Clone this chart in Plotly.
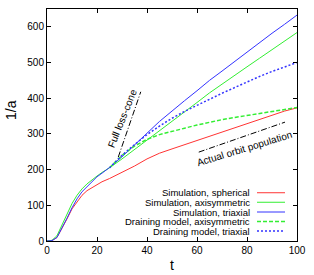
import plotly.graph_objects as go

# ---- data ----
t_sim = [0, 2, 4, 6, 8, 10, 12, 14, 16, 18, 20, 22, 25, 30, 35, 40, 45, 50, 55, 60, 65, 70, 75, 80, 85, 90, 95, 100]
sim_spherical = [0, 1, 10, 35, 62, 90, 110, 128, 141, 150, 157, 166, 175, 192, 210, 230, 246, 258, 270, 282, 293, 304, 316, 328, 340, 353, 364, 373]
sim_axisym = [0, 2, 15, 45, 78, 105, 128, 146, 160, 172, 182, 192, 205, 230, 256, 282, 308, 334, 361, 388, 415, 440, 464, 488, 512, 536, 560, 584]
sim_triaxial = [0, 1, 10, 35, 64, 93, 118, 138, 153, 167, 180, 190, 206, 236, 268, 302, 335, 365, 393, 421, 450, 476, 503, 530, 556, 582, 607, 633]

t_drain = [25, 30, 35, 40, 45, 50, 55, 60, 65, 70, 75, 80, 85, 90, 95, 100]
drain_axisym = [205, 240, 266, 285, 298, 308, 316, 325, 333, 340, 346, 352, 358, 364, 369, 374]
drain_triaxial = [205, 240, 270, 298, 322, 344, 363, 381, 397, 414, 430, 446, 461, 475, 488, 500]

fullcone_t = [28.5, 37.5]
fullcone_v = [235, 418]
actual_t = [60.7, 95.2]
actual_v = [249, 333]

x_ticks = [0, 20, 40, 60, 80, 100]
y_ticks = [0, 100, 200, 300, 400, 500, 600]

RED = "#ff3333"
GREEN = "#33ee33"
BLUE = "#3333ff"

series = [
    ("Simulation, spherical", t_sim, sim_spherical, RED, "solid", 1),
    ("Simulation, axisymmetric", t_sim, sim_axisym, GREEN, "solid", 1),
    ("Simulation, triaxial", t_sim, sim_triaxial, BLUE, "solid", 1),
    ("Draining model, axisymmetric", t_drain, drain_axisym, GREEN, "4px,2px", 1.5),
    ("Draining model, triaxial", t_drain, drain_triaxial, BLUE, "2px,2px", 1.5),
]

fig = go.Figure()
for name, tx, vy, col, dash, w in series:
    fig.add_trace(go.Scatter(x=tx, y=vy, mode="lines", name=name,
                             line=dict(color=col, dash=dash, width=w), showlegend=False))

for tx, vy in [(fullcone_t, fullcone_v), (actual_t, actual_v)]:
    fig.add_trace(go.Scatter(x=tx, y=vy, mode="lines", showlegend=False,
                             line=dict(color="black", dash="6px,2px,1px,2px", width=1)))

FONT = "Liberation Sans, Arial, Helvetica, sans-serif"

fig.add_annotation(x=30, y=344, xref="x", yref="y", text="Full loss-cone", showarrow=False,
                   textangle=-68, font=dict(family=FONT, size=10, color="black"))
fig.add_annotation(x=79, y=259, xref="x", yref="y", text="Actual orbit population", showarrow=False,
                   textangle=-17, font=dict(family=FONT, size=10, color="black"))

# axis titles
fig.add_annotation(x=0.5, y=-0.103, xref="paper", yref="paper", text="t", showarrow=False,
                   xanchor="center", yanchor="middle", font=dict(family=FONT, size=14, color="black"))
fig.add_annotation(x=-0.144, y=0.565, xref="paper", yref="paper", text="1/a", showarrow=False,
                   xanchor="center", yanchor="middle",
                   textangle=-90, font=dict(family=FONT, size=14, color="black"))

# manual legend (text left, sample right)
leg_y = [0.208, 0.167, 0.125, 0.084, 0.043]
for (name, tx, vy, col, dash, w), yy in zip(series, leg_y):
    fig.add_annotation(x=0.82, y=yy, xref="paper", yref="paper", text=name, showarrow=False,
                       xanchor="right", yanchor="middle",
                       font=dict(family=FONT, size=9.5, color="black"))
    fig.add_shape(type="line", xref="paper", yref="paper", x0=0.84, x1=0.952, y0=yy, y1=yy,
                  line=dict(color=col, dash=dash, width=w))

fig.update_layout(
    width=314, height=275,
    margin=dict(l=47, r=17, t=9, b=34, autoexpand=False),
    paper_bgcolor="white", plot_bgcolor="white",
    font=dict(family=FONT, size=10, color="black"),
    showlegend=False,
)
fig.update_xaxes(range=[0, 100], tickvals=x_ticks, ticks="inside", ticklen=4, tickcolor="black",
                 showline=True, linecolor="black", linewidth=1, mirror="ticks", showgrid=False,
                 zeroline=False, automargin=False, tickfont=dict(size=10))
fig.update_yaxes(range=[0, 650], tickvals=y_ticks, ticks="inside", ticklen=4, tickcolor="black",
                 showline=True, linecolor="black", linewidth=1, mirror="ticks", showgrid=False,
                 zeroline=True, zerolinecolor="#888888", zerolinewidth=2,
                 automargin=False, tickfont=dict(size=10))

fig.write_html("out.html", config={"displayModeBar": False},
               post_script="document.body.style.margin='0';document.body.style.padding='0';")
